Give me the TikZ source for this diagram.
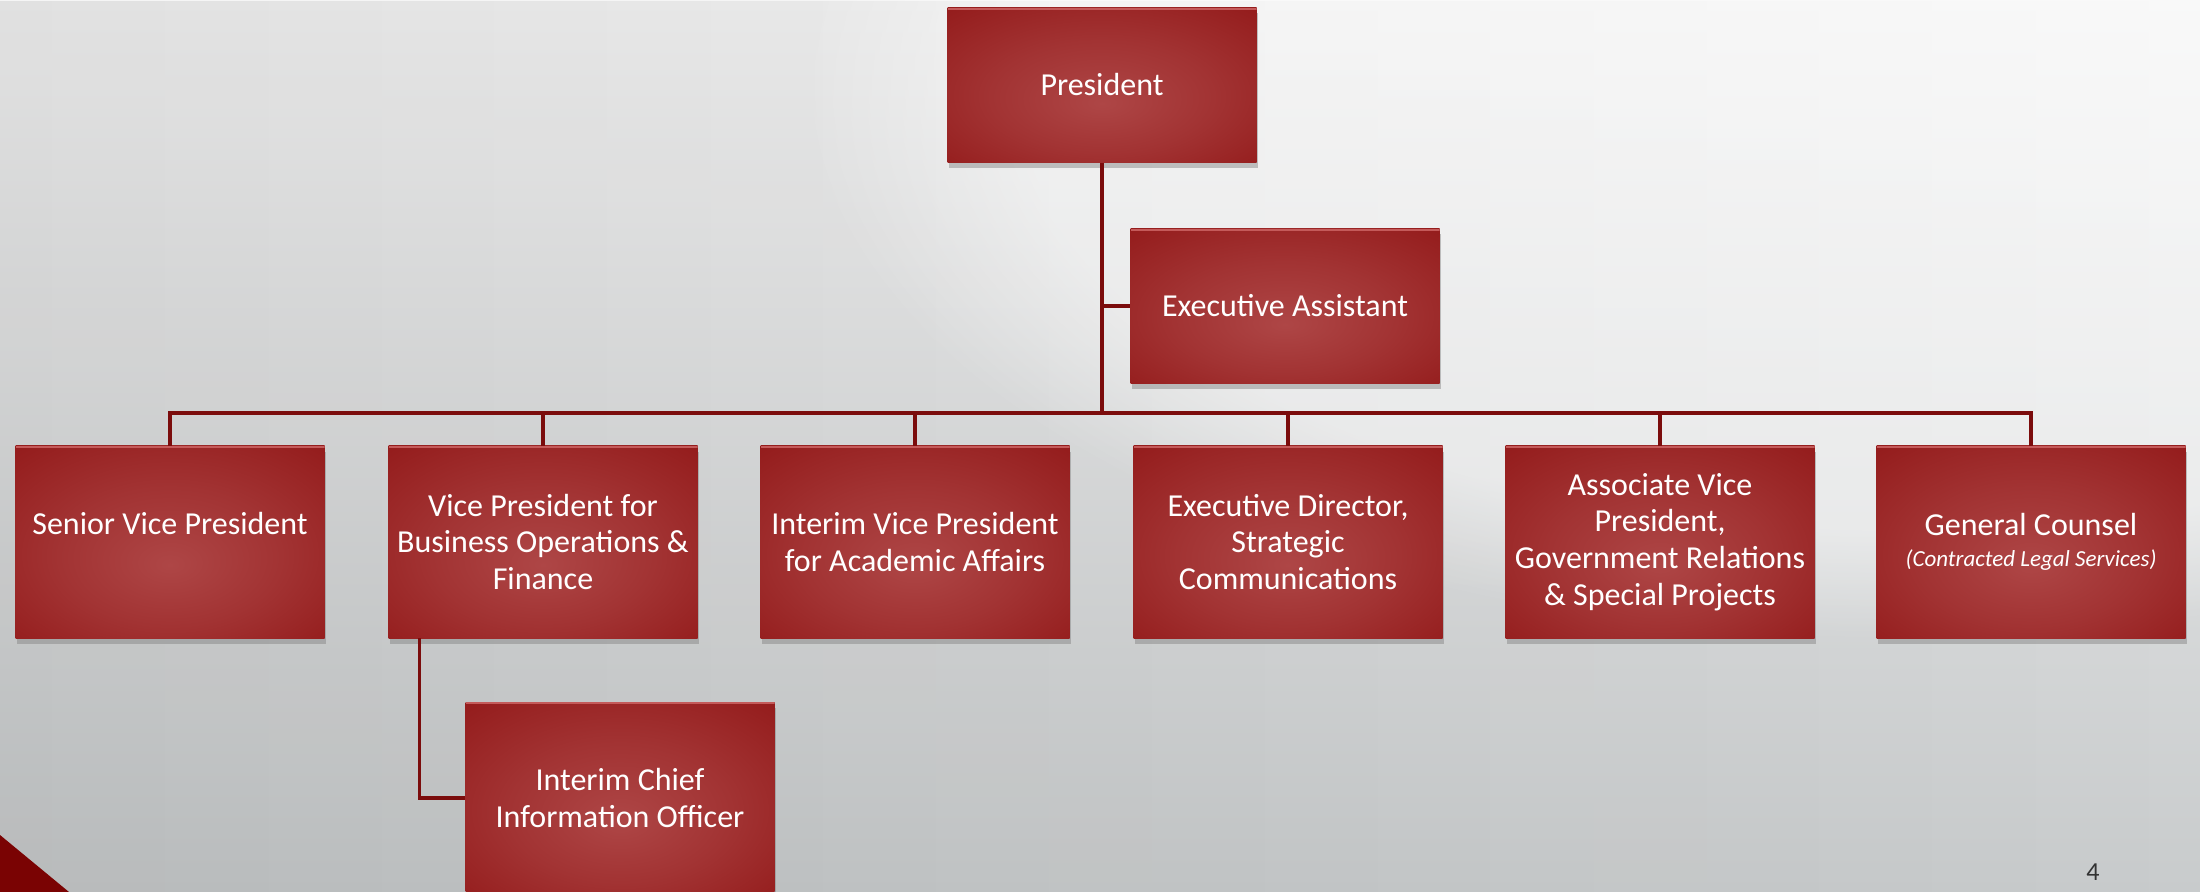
\documentclass[tikz,border=0pt]{standalone}
\usepackage{fontspec}
\setmainfont{Carlito}
\usetikzlibrary{shadows,calc,fadings}
\definecolor{bgtop}{HTML}{F5F5F5}
\definecolor{bgmid}{HTML}{E6E7E7}
\definecolor{bgbot}{HTML}{C8CBCC}
\definecolor{boxin}{HTML}{AE4646}
\definecolor{boxmid}{HTML}{A23333}
\definecolor{boxedge}{HTML}{931A1A}
\definecolor{boxout}{HTML}{8A1010}
\definecolor{linecol}{HTML}{7B0C0C}
\definecolor{hilite}{HTML}{C45A5A}
\definecolor{tricol}{HTML}{7A0303}
\definecolor{numcol}{HTML}{333333}
\pgfdeclareradialshading{boxshade}{\pgfpoint{0bp}{-6bp}}{color(0bp)=(boxin); color(18bp)=(boxmid); color(38bp)=(boxedge); color(50bp)=(boxout)}
\tikzset{
  orgbox/.style={shade, shading=boxshade, draw=none, inner sep=0pt,
    minimum width=154.5pt, minimum height=96pt, align=center, text=white,
    font=\fontsize{16}{18.3}\selectfont,
    drop shadow={shadow xshift=0.8pt, shadow yshift=-2.8pt, opacity=0.45},
    path picture={\draw[hilite, line width=1pt] ([yshift=-0.6pt]path picture bounding box.north west) -- ([yshift=-0.6pt]path picture bounding box.north east);}},
  topbox/.style={orgbox, minimum height=77.5pt},
  conn/.style={draw=linecol, line width=1.7pt},
  pagenum/.style={text=numcol, font=\fontsize{13}{15}\selectfont, inner sep=0pt}
}
\begin{document}
\begin{tikzpicture}[x=0.5pt, y=-0.5pt]
\useasboundingbox (0,0) rectangle (2200,892);
\shade[top color=bgtop, middle color=bgmid, bottom color=bgbot] (0,0) rectangle (2200,892);
\fill[black, opacity=0.08, path fading=east] (0,0) rectangle (2200,892);
\begin{scope}
\clip (0,0) rectangle (2200,892);
\fill[white, opacity=0.45, path fading=circle with fuzzy edge 20 percent] (1900,80) ellipse [x radius=1100, y radius=560];
\end{scope}
\fill[tricol] (0,835) -- (0,892) -- (69,892) -- cycle;

\node[topbox] (pres) at (1102,85) {President};
\node[topbox] (ea) at (1285,306) {Executive Assistant};

\node[orgbox] (svp) at (170,542) {Senior Vice President\\\mbox{}};
\node[orgbox] (vpb) at (543,542) {Vice President for\\Business Operations \&\\Finance};
\node[orgbox] (ivp) at (915,542) {Interim Vice President\\for Academic Affairs};
\node[orgbox] (ed) at (1288,542) {Executive Director,\\Strategic\\Communications};
\node[orgbox] (avp) at (1660,542) {Associate Vice\\President,\\Government Relations\\\& Special Projects};
\node[orgbox] (gc) at (2031,542) {General Counsel\\[-2.5pt]{\fontsize{11.5}{13}\selectfont\itshape (Contracted Legal Services)}};
\node[orgbox] (cio) at (620,798) {Interim Chief\\Information Officer};

\node[pagenum] (pg) at (2093,872) {4};

\coordinate (hub) at (1102,413);
\draw[conn] (pres.south) -- (hub);
\draw[conn] (pres.south |- ea.west) -- (ea.west);
\draw[conn] (svp.north) -- (svp.north |- hub) -- (gc.north |- hub) -- (gc.north);
\draw[conn] (vpb.north) -- (vpb.north |- hub);
\draw[conn] (ivp.north) -- (ivp.north |- hub);
\draw[conn] (ed.north) -- (ed.north |- hub);
\draw[conn] (avp.north) -- (avp.north |- hub);
\draw[conn] ($(vpb.south west)+(31.5,0)$) |- (cio.west);
\end{tikzpicture}
\end{document}
